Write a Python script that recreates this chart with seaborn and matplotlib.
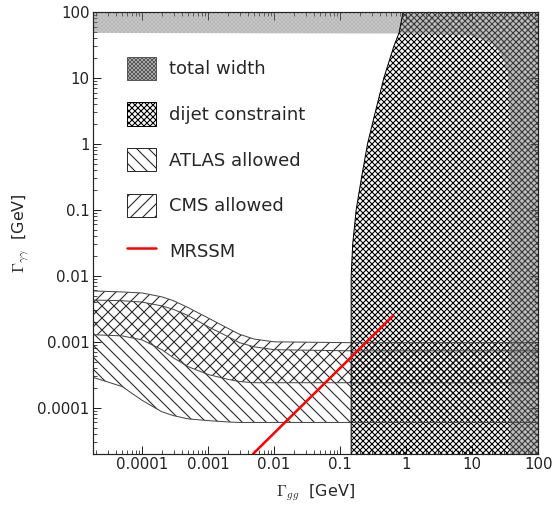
import seaborn as sns
import matplotlib.pyplot as plt
from matplotlib.patches import Patch
from matplotlib.lines import Line2D
from matplotlib.ticker import FuncFormatter

# band edges (Gamma_gg in GeV on x)
x_band = [1.8e-5, 5e-5, 1e-4, 2e-4, 3e-4, 5e-4, 1e-3, 2e-3, 3e-3, 5e-3, 1e-2, 0.15, 100]
cms_hi = [0.0059, 0.0057, 0.0055, 0.0048, 0.0042, 0.0033, 0.0023, 0.0016, 0.0013, 0.0011, 0.001, 0.00097, 0.00097]
cms_lo = [0.00128, 0.00123, 0.00107, 0.00076, 0.00057, 0.00042, 0.00032, 0.00027, 0.00025, 0.00024, 0.00024, 0.00024, 0.00024]
atlas_hi = [0.0043, 0.0042, 0.0040, 0.0035, 0.0031, 0.0025, 0.0017, 0.0012, 0.00097, 0.00084, 0.00076, 0.00073, 0.00073]
atlas_lo = [0.00029, 0.00021, 0.00013, 8.7e-5, 7.6e-5, 6.8e-5, 6.4e-5, 6.1e-5, 6e-5, 6e-5, 6e-5, 6e-5, 6e-5]

# dijet constraint edge, Gamma_gg as a function of Gamma_yy
dijet_y = [2e-5, 0.01, 0.03, 0.1, 0.3, 1, 3, 10, 30, 48, 100]
dijet_x = [0.147, 0.147, 0.155, 0.175, 0.21, 0.26, 0.34, 0.46, 0.65, 0.78, 0.9]

# total width edge
tw_x = [1.8e-5, 1, 5, 10.4, 20, 28, 35, 37, 37, 100]
tw_y = [48, 47, 45, 43, 33, 22, 12, 3, 2e-5, 2e-5]

# MRSSM line
mrssm_x = [0.0048, 0.64]
mrssm_y = [2e-5, 0.0025]

legend_labels = ['total width', 'dijet constraint', 'ATLAS allowed', 'CMS allowed', 'MRSSM']

sns.set_style('ticks')
plt.rcParams['font.family'] = ['DejaVu Sans']
plt.rcParams['mathtext.fontset'] = 'cm'
plt.rcParams['hatch.linewidth'] = 1.1

fig = plt.figure(figsize=(556 / 72, 517 / 72), dpi=72)
ax = fig.add_axes([0.167, 0.122, 0.801, 0.855])
ax.set_xscale('log')
ax.set_yscale('log')

band_col = '#2a2a2a'
ax.fill_between(x_band, cms_lo, cms_hi, facecolor='none', edgecolor=band_col, hatch='//', lw=0)
ax.fill_between(x_band, atlas_lo, atlas_hi, facecolor='none', edgecolor=band_col, hatch='\\\\', lw=0)
for edge in [cms_hi, cms_lo, atlas_hi, atlas_lo]:
    sns.lineplot(x=x_band, y=edge, ax=ax, color='#444444', lw=1)

ax.fill_betweenx(dijet_y, dijet_x, 100, facecolor='none', edgecolor='black', hatch='xxxx', lw=0)
ax.plot(dijet_x, dijet_y, color='black', lw=1)

tw_face = (0.5, 0.5, 0.5, 0.38)
tw_hatch = (0.45, 0.45, 0.45, 0.25)
ax.fill_between(tw_x, tw_y, 100, facecolor=tw_face, edgecolor=tw_hatch, hatch='xxxxxx', lw=0)

sns.lineplot(x=mrssm_x, y=mrssm_y, ax=ax, color='red', lw=2.5)

ax.set_xlim(1.8e-5, 100)
ax.set_ylim(2e-5, 100)

fmt = FuncFormatter(lambda v, p: '{:g}'.format(v))
ax.xaxis.set_major_formatter(fmt)
ax.yaxis.set_major_formatter(fmt)
ax.tick_params(which='both', direction='in', top=True, right=True, labelsize=15, colors='#222222')
ax.tick_params(which='major', length=8, width=1)
ax.tick_params(which='minor', length=4, width=0.8)
for s in ax.spines.values():
    s.set_linewidth(1.2)
    s.set_color('#222222')

ax.set_xlabel(r'$\Gamma_{gg}$  [GeV]', fontsize=16, labelpad=10)
ax.set_ylabel(r'$\Gamma_{\gamma\gamma}$  [GeV]', fontsize=16, labelpad=6)

handles = [
    Patch(facecolor=tw_face, edgecolor='#555555', hatch='xxxxxx'),
    Patch(facecolor='white', edgecolor='black', hatch='xxxx'),
    Patch(facecolor='white', edgecolor=band_col, hatch='\\\\'),
    Patch(facecolor='white', edgecolor=band_col, hatch='//'),
    Line2D([0], [0], color='red', lw=2.5),
]
ax.legend(handles, legend_labels, loc='upper left', bbox_to_anchor=(0.04, 0.935),
          frameon=False, fontsize=18, handlelength=1.6, handleheight=1.6,
          labelspacing=1.25, handletextpad=0.75)

fig.savefig('out.png', dpi=72)
